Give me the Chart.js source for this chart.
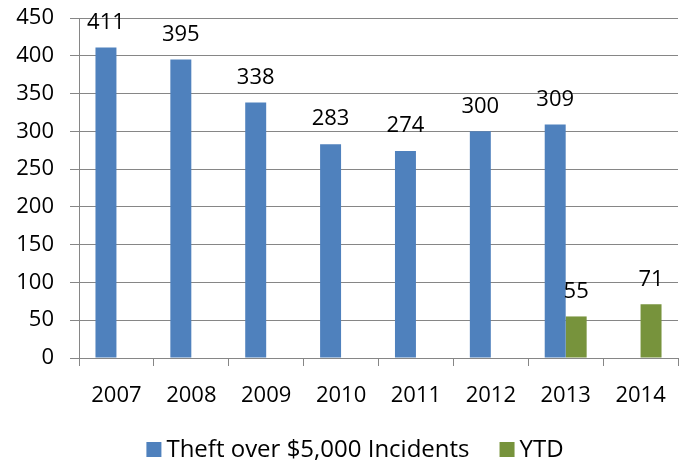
<!DOCTYPE html>
<html>
<head>
<meta charset="utf-8">
<script src="https://cdn.jsdelivr.net/npm/chart.js@4"></script>
<style>
  html, body { margin: 0; padding: 0; background: #fff; overflow: hidden; }
  #wrap { width: 684px; height: 461px; }
</style>
</head>
<body>
<div id="wrap"><canvas id="theftChart" width="684" height="461"></canvas></div>
<script>
const years = ["2007", "2008", "2009", "2010", "2011", "2012", "2013", "2014"];
const incidents = [411, 395, 338, 283, 274, 300, 309, null];
const ytd = [null, null, null, null, null, null, 55, 71];
const yMin = 0;
const yMax = 450;
const yStep = 50;

const gridColor = "#868686";
const fontFamily = "'Open Sans', sans-serif";
Chart.defaults.font.family = fontFamily;
Chart.defaults.color = "#000";

// values over the bars
const barLabels = {
  id: "barLabels",
  afterDatasetsDraw(chart) {
    const ctx = chart.ctx;
    ctx.save();
    ctx.font = "22px " + fontFamily;
    ctx.fillStyle = "#000";
    ctx.textAlign = "center";
    ctx.textBaseline = "middle";
    chart.data.datasets.forEach((ds, i) => {
      chart.getDatasetMeta(i).data.forEach((bar, j) => {
        const v = ds.data[j];
        if (v == null) return;
        ctx.fillText(String(v), bar.x, bar.y - 25);
      });
    });
    ctx.restore();
  },
};

// legend drawn by hand so the box/text gaps match the Excel look
const bottomLegend = {
  id: "bottomLegend",
  afterDraw(chart) {
    const ctx = chart.ctx;
    const box = 15, gap = 5, itemGap = 30, y = 449.5;
    ctx.save();
    ctx.font = "24px " + fontFamily;
    ctx.textBaseline = "middle";
    ctx.textAlign = "left";
    const items = chart.data.datasets.map(ds => ({
      text: ds.label,
      color: ds.backgroundColor,
      w: ctx.measureText(ds.label).width,
    }));
    let total = items.reduce((s, it) => s + box + gap + it.w, 0) + itemGap * (items.length - 1);
    let x = chart.width / 2 + 13 - total / 2;
    items.forEach(it => {
      ctx.fillStyle = it.color;
      ctx.fillRect(x, y - box / 2, box, box);
      ctx.fillStyle = "#000";
      ctx.fillText(it.text, x + box + gap, y + 1);
      x += box + gap + it.w + itemGap;
    });
    ctx.restore();
  },
};

new Chart(document.getElementById("theftChart").getContext("2d"), {
  type: "bar",
  data: {
    labels: years,
    datasets: [
      {
        label: "Theft over $5,000 Incidents",
        data: incidents,
        backgroundColor: "#4F81BD",
        categoryPercentage: 0.56,
        barPercentage: 1,
      },
      {
        label: "YTD",
        data: ytd,
        backgroundColor: "#77933C",
        categoryPercentage: 0.56,
        barPercentage: 1,
      },
    ],
  },
  options: {
    responsive: false,
    animation: false,
    layout: { padding: { top: 18, right: 6, left: 0, bottom: 0 } },
    plugins: {
      tooltip: { enabled: false },
      legend: { display: false },
    },
    scales: {
      x: {
        grid: { offset: true, drawOnChartArea: false, tickLength: 8, color: gridColor },
        border: { color: gridColor },
        ticks: { font: { size: 22 }, padding: 17, maxRotation: 0 },
        afterFit(scale) {
          scale.height = 103;
          scale.paddingLeft = 0;
          scale.paddingRight = 0;
        },
      },
      y: {
        min: yMin,
        max: yMax,
        ticks: { stepSize: yStep, font: { size: 22 }, padding: 16 },
        grid: { color: gridColor, tickLength: 9 },
        border: { color: gridColor },
        afterFit(scale) {
          scale.width = 79;
          scale.paddingTop = 0;
          scale.paddingBottom = 0;
        },
      },
    },
  },
  plugins: [barLabels, bottomLegend],
});
</script>
</body>
</html>
